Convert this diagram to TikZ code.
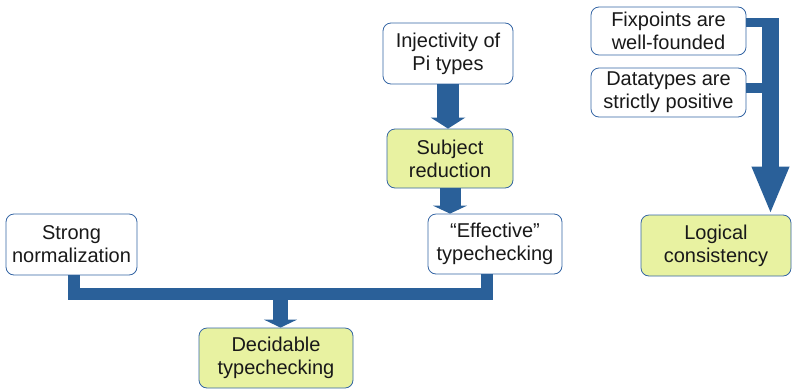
\documentclass[tikz,border=0pt]{standalone}
\usepackage{fontspec}
\setmainfont{Liberation Sans}
\usepackage{tikz}
\usetikzlibrary{arrows.meta,positioning}
\definecolor{linkblue}{HTML}{2A6099}
\definecolor{edgeblue}{HTML}{3465A4}
\definecolor{goalfill}{HTML}{E8F2A1}

\begin{document}
\begin{tikzpicture}[x=1pt, y=-1pt,
    box/.style={draw=edgeblue, line width=0.8pt, fill=white, rounded corners=8pt,
        align=center, inner sep=0pt, text=black!90, font=\fontsize{20}{23}\selectfont},
    goal/.style={box, fill=goalfill},
    link/.style={draw=linkblue}]
    \useasboundingbox (0,0) rectangle (792,389);
    % Premises
    \node[box, minimum width=130pt, minimum height=61pt] (inj) at (448,53.5) {Injectivity of\\Pi types};
    \node[goal, minimum width=126pt, minimum height=59pt] (subj) at (450,158.5) {Subject\\reduction};
    \node[box, minimum width=134pt, minimum height=60pt] (eff) at (495,244) {“Effective”\\typechecking};
    \node[box, minimum width=131pt, minimum height=61pt] (strong) at (71.5,244.5) {Strong\\normalization};
    \node[goal, minimum width=154pt, minimum height=60pt] (dec) at (276,358) {Decidable\\typechecking};
    \node[box, minimum width=155pt, minimum height=48pt] (fix) at (668.5,31) {Fixpoints are\\well-founded};
    \node[box, minimum width=155pt, minimum height=49pt] (dat) at (668.5,92.5) {Datatypes are\\strictly positive};
    \node[goal, minimum width=150pt, minimum height=61pt] (logic) at (716,245.5) {Logical\\consistency};
    % Arrows
    \draw[link, line width=22pt, -{Triangle[width=34pt, length=11pt]}]
         (inj.south) -- (inj.south |- subj.north);
    \draw[link, line width=21pt, -{Triangle[width=34pt, length=8pt]}]
         (subj.south) -- (subj.south |- eff.north);
    \coordinate (bar) at (280.5,294);
    \draw[link, line width=12pt] ([xshift=2.5pt]strong.south) |- (bar) -| ([xshift=-8.5pt]eff.south);
    \draw[link, line width=15pt, -{Triangle[width=33pt, length=8pt]}]
         (bar) -- (bar |- dec.north);
    \coordinate (drop) at (770.5,18);
    \draw[link, line width=9pt] ([yshift=8.5pt]fix.east) -- ++(33,0);
    \draw[link, line width=10pt] ([yshift=4.5pt]dat.east) -- ++(24,0);
    \draw[link, line width=17pt, -{Triangle[width=34pt, length=48pt]}]
         (drop) -- (drop |- logic.north);
\end{tikzpicture}
\end{document}
